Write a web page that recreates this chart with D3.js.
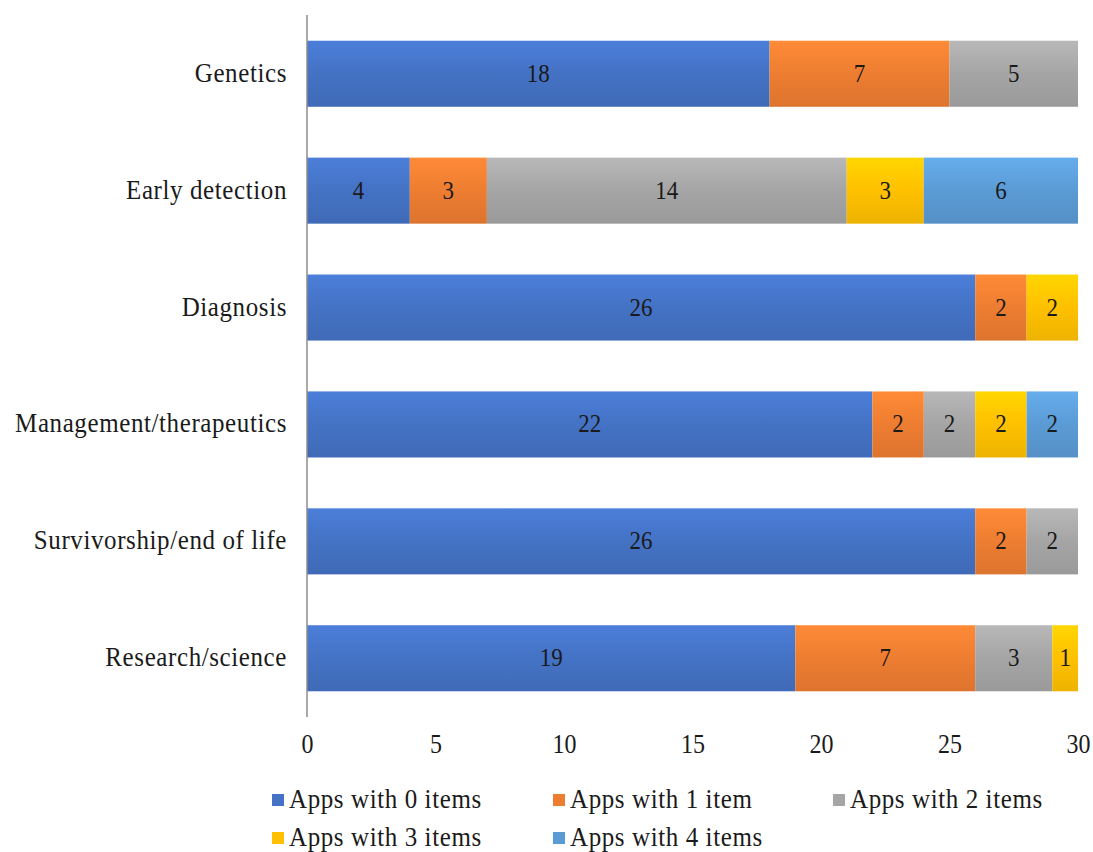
<!DOCTYPE html>
<html>
<head>
<meta charset="utf-8">
<script src="https://d3js.org/d3.v7.min.js"></script>
<style>
  body { margin: 0; background: #fff; }
  svg text { font-family: "Liberation Serif", "Times New Roman", "DejaVu Serif", serif; fill: #1a1a1a; }
</style>
</head>
<body>
<div id="chart"></div>
<script>
// categories, top to bottom
const categories = ["Genetics", "Early detection", "Diagnosis", "Management/therapeutics", "Survivorship/end of life", "Research/science"];
const seriesNames = ["Apps with 0 items", "Apps with 1 item", "Apps with 2 items", "Apps with 3 items", "Apps with 4 items"];
const seriesColors = ["#4472C4", "#ED7D31", "#A5A5A5", "#FFC000", "#5B9BD5"];
// values per series, in category order
const items0 = [18, 4, 26, 22, 26, 19];
const items1 = [7, 3, 2, 2, 2, 7];
const items2 = [5, 14, 0, 2, 2, 3];
const items3 = [0, 3, 2, 2, 0, 1];
const items4 = [0, 6, 0, 2, 0, 0];
const xTicks = [0, 5, 10, 15, 20, 25, 30];

const width = 1093, height = 852;
const margin = { top: 15, left: 307 };
const serif = "Liberation Serif, Times New Roman, serif";

const svg = d3.select("#chart").append("svg")
    .attr("width", width)
    .attr("height", height);

const rows = categories.map((c, i) => ({
    cat: c, s0: items0[i], s1: items1[i], s2: items2[i], s3: items3[i], s4: items4[i]
}));
const keys = ["s0", "s1", "s2", "s3", "s4"];
const stacked = d3.stack().keys(keys)(rows);

const x = d3.scaleLinear().domain([0, 30]).range([margin.left, 1078]);
const y = d3.scaleBand().domain(categories).range([margin.top, 717]).paddingInner(0.435).paddingOuter(0.22);

// text slightly taller than wide, like the source image
function stretched(sel, px, py) {
    sel.attr("transform", d => `translate(${px(d)},${py(d)}) scale(1,1.12)`);
}

// gradients per series
const defs = svg.append("defs");
seriesColors.forEach((c, i) => {
    const g = defs.append("linearGradient").attr("id", "g" + i)
        .attr("x1", 0).attr("y1", 0).attr("x2", 0).attr("y2", 1);
    g.append("stop").attr("offset", "0%").attr("stop-color", d3.color(c).brighter(0.3));
    g.append("stop").attr("offset", "50%").attr("stop-color", c);
    g.append("stop").attr("offset", "100%").attr("stop-color", d3.color(c).darker(0.2));
});

stacked.forEach((layer, i) => {
    const g = svg.append("g");
    const segs = layer.map((d, j) => ({ x0: d[0], x1: d[1], cat: categories[j] }))
        .filter(d => d.x1 - d.x0 > 0);
    g.selectAll("rect").data(segs).enter().append("rect")
        .attr("x", d => x(d.x0))
        .attr("y", d => y(d.cat))
        .attr("width", d => x(d.x1) - x(d.x0))
        .attr("height", y.bandwidth())
        .attr("fill", `url(#g${i})`);
    g.selectAll("text").data(segs).enter().append("text")
        .call(stretched, d => (x(d.x0) + x(d.x1)) / 2, d => y(d.cat) + y.bandwidth() / 2 + 8)
        .attr("text-anchor", "middle")
        .attr("font-family", serif)
        .style("font-size", "23px")
        .text(d => d.x1 - d.x0);
});

// y axis line and labels
svg.append("line")
    .attr("x1", x(0)).attr("x2", x(0))
    .attr("y1", margin.top).attr("y2", 717)
    .attr("stroke", "#8c8c8c").attr("stroke-width", 1.5);

svg.append("g").selectAll("text").data(categories).enter().append("text")
    .call(stretched, () => 287, d => y(d) + y.bandwidth() / 2 + 8)
    .attr("text-anchor", "end")
    .attr("font-family", serif)
    .style("font-size", "25px")
    .style("letter-spacing", "0.6px")
    .text(d => d);

// x axis
const xAxis = svg.append("g")
    .attr("transform", "translate(0,717)")
    .call(d3.axisBottom(x).tickValues(xTicks).tickSize(0).tickPadding(0));
xAxis.select(".domain").remove();
xAxis.selectAll("text")
    .attr("y", 0).attr("dy", null)
    .attr("transform", "translate(0,36) scale(1,1.12)")
    .attr("font-family", serif)
    .style("font-size", "24px")
    .attr("fill", "#1a1a1a");

// legend
const legendPos = [[272, 800], [553, 800], [833, 800], [272, 838], [553, 838]];
const legend = svg.append("g");
seriesNames.forEach((n, i) => {
    const [lx, ly] = legendPos[i];
    legend.append("rect")
        .attr("x", lx).attr("y", ly - 6)
        .attr("width", 12).attr("height", 12)
        .attr("fill", seriesColors[i]);
    legend.append("text")
        .attr("transform", `translate(${lx + 17},${ly + 8}) scale(1,1.12)`)
        .attr("font-family", serif)
        .style("font-size", "25px")
        .style("letter-spacing", "0.6px")
        .text(n);
});
</script>
</body>
</html>
